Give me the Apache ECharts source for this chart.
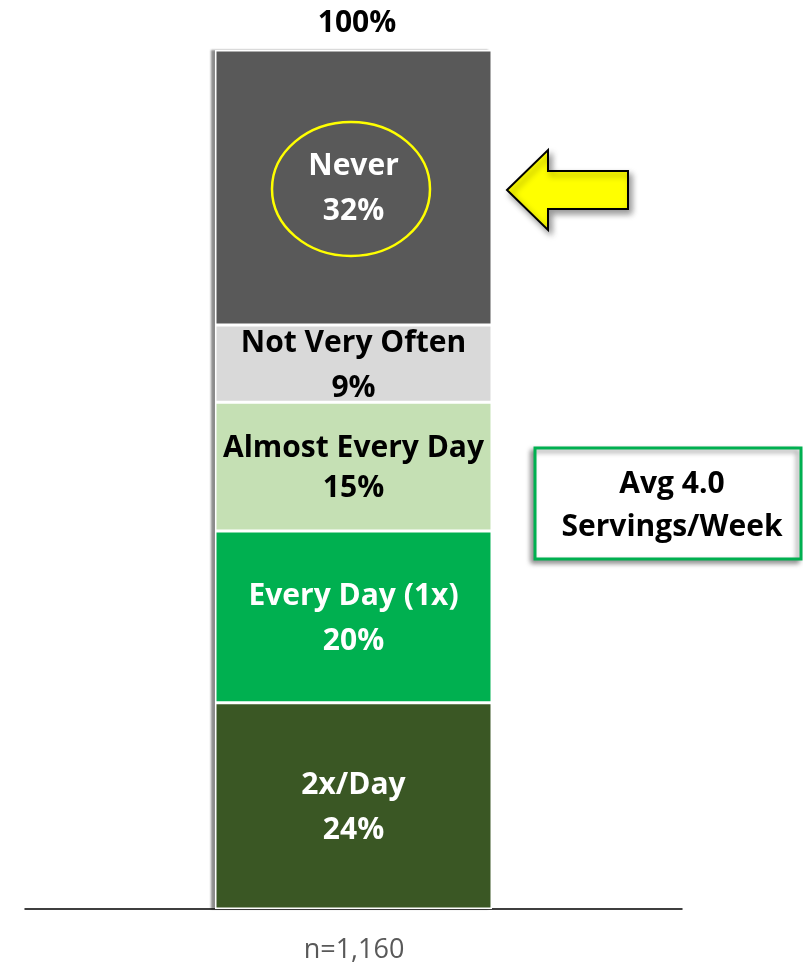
<!DOCTYPE html>
<html>
<head>
<meta charset="utf-8">
<script src="https://cdn.jsdelivr.net/npm/echarts@6/dist/echarts.min.js"></script>
<style>
html,body{margin:0;padding:0;background:#fff;}
#main{width:803px;height:964px;}
</style>
</head>
<body>
<div id="main"></div>
<script>
// stack order bottom -> top
var segNames = ['2x/Day', 'Every Day (1x)', 'Almost Every Day', 'Not Very Often', 'Never'];
var segValues = [24, 20, 15, 9, 32];
var segColors = ['#3A5724', '#00B050', '#C5E0B4', '#D9D9D9', '#595959'];
var labelColors = ['#fff', '#fff', '#000', '#000', '#fff'];
var totalLabel = '100%';
var sampleNote = 'n=1,160';
var avgNote = ['Avg 4.0', 'Servings/Week'];

var font = '"Open Sans", "Noto Sans", sans-serif';

var total = 0;
for (var k = 0; k < segValues.length; k++) total += segValues[k];

// backing bar that only carries the left drop shadow
var series = [{
    name: 'shadow',
    type: 'bar',
    barWidth: 277,
    barGap: '-100%',
    z: 1,
    silent: true,
    data: [total],
    itemStyle: {
        color: '#fff',
        shadowColor: 'rgba(0,0,0,0.45)',
        shadowBlur: 2,
        shadowOffsetX: -4
    }
}];
for (var i = 0; i < segNames.length; i++) {
    series.push({
        name: segNames[i],
        type: 'bar',
        stack: 'total',
        barWidth: 277,
        barGap: '-100%',
        z: 2,
        data: [segValues[i]],
        itemStyle: {
            color: segColors[i],
            borderColor: '#fff',
            borderWidth: 1.5
        },
        label: {
            show: true,
            position: 'inside',
            offset: [0, 2],
            formatter: segNames[i] + '\n' + segValues[i] + '%',
            color: labelColors[i],
            fontFamily: font,
            fontWeight: 'bold',
            fontSize: 30,
            lineHeight: segNames[i] === 'Almost Every Day' ? 40 : 45
        }
    });
}

var myChart = echarts.init(document.getElementById('main'));
var option = {
    animation: false,
    backgroundColor: '#fff',
    grid: {left: 25, right: 121, top: 50, bottom: 55},
    xAxis: {
        type: 'category',
        data: [''],
        axisLine: {lineStyle: {color: '#000', width: 1.5}},
        axisTick: {show: false},
        axisLabel: {show: false}
    },
    yAxis: {
        type: 'value',
        min: 0,
        max: 100,
        show: false
    },
    graphic: [
        {
            type: 'text',
            x: 357, y: 23,
            style: {text: totalLabel, fill: '#000', font: 'bold 30px ' + font, align: 'center', verticalAlign: 'middle'}
        },
        {
            type: 'text',
            x: 354, y: 950,
            style: {text: sampleNote, fill: '#595959', font: '27px ' + font, align: 'center', verticalAlign: 'middle'}
        },
        {
            type: 'ellipse',
            shape: {cx: 351, cy: 189, rx: 79, ry: 67},
            style: {fill: 'none', stroke: '#FFFF00', lineWidth: 2.5},
            z: 100
        },
        {
            type: 'polygon',
            shape: {points: [[507, 190], [548, 150], [548, 171], [628, 171], [628, 209], [548, 209], [548, 230]]},
            style: {fill: '#FFFF00', stroke: '#000', lineWidth: 2, shadowColor: 'rgba(0,0,0,0.4)', shadowBlur: 6, shadowOffsetX: 3, shadowOffsetY: 4},
            z: 100
        },
        {
            type: 'rect',
            shape: {x: 535, y: 448, width: 266, height: 111},
            style: {fill: '#fff', stroke: '#00B050', lineWidth: 3, shadowColor: 'rgba(0,0,0,0.4)', shadowBlur: 5, shadowOffsetX: -3, shadowOffsetY: 3},
            z: 100
        },
        {
            type: 'text',
            x: 672, y: 506,
            style: {text: avgNote.join('\n'), fill: '#000', font: 'bold 30px ' + font, align: 'center', verticalAlign: 'middle', lineHeight: 43},
            z: 101
        }
    ],
    series: series
};
myChart.setOption(option);
</script>
</body>
</html>
